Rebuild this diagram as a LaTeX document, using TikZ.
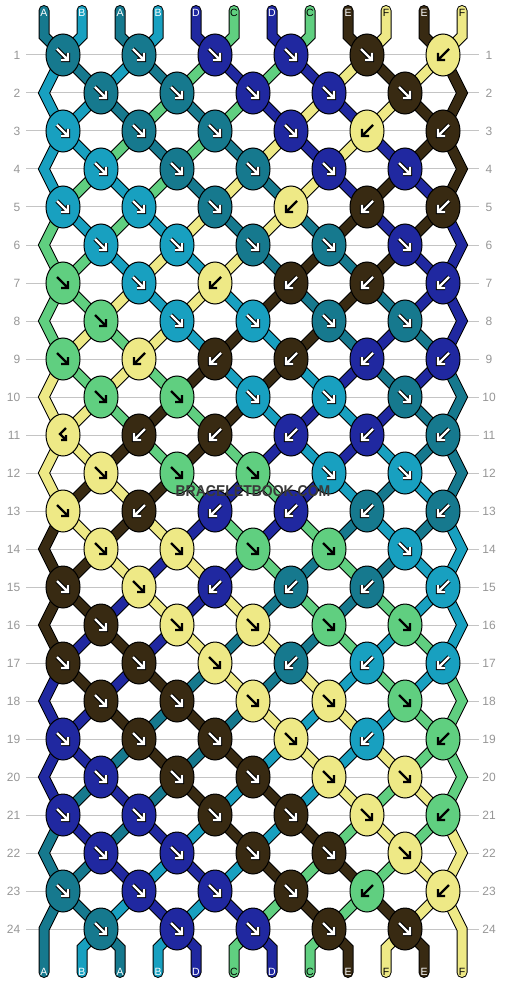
\documentclass[tikz,border=0pt]{standalone}
\usepackage{fontspec}
\setmainfont{Liberation Sans}
\usetikzlibrary{shapes.geometric}

\definecolor{colA}{RGB}{22,121,142}
\definecolor{colB}{RGB}{24,160,192}
\definecolor{colC}{RGB}{96,207,128}
\definecolor{colD}{RGB}{32,40,160}
\definecolor{colE}{RGB}{56,42,18}
\definecolor{colF}{RGB}{238,233,134}
\definecolor{gridgray}{RGB}{196,196,196}
\definecolor{labelgray}{RGB}{150,150,150}
\definecolor{markgray}{RGB}{58,58,58}
% arrow and letter colours per thread colour
\colorlet{tipA}{white}\colorlet{edgeA}{black}
\colorlet{tipB}{white}\colorlet{edgeB}{black}
\colorlet{tipC}{black}\colorlet{edgeC}{colC}
\colorlet{tipD}{white}\colorlet{edgeD}{black}
\colorlet{tipE}{white}\colorlet{edgeE}{black}
\colorlet{tipF}{black}\colorlet{edgeF}{colF}

% knot arrows: forward, backward, backward-forward
\def\tipf{(-6,-6) -- (5,5) (5,-2) -- (5,5) -- (-2,5)}
\def\tipb{(6,-6) -- (-5,5) (-5,-2) -- (-5,5) -- (2,5)}
\def\tipx{(3,-7) -- (-3,-1) -- (3,5) (3,0) -- (3,5) -- (-2,5)}

\tikzset{
  thread/.style={draw=black, line width=1pt, double distance=9pt, line cap=round, line join=miter},
  knot/.style={ellipse, draw=black, line width=1pt, minimum width=34pt, minimum height=42pt, inner sep=0pt},
  tipedge/.style={line width=4.4pt, line join=miter},
  tipfill/.style={line width=2.4pt, line join=miter},
  rowline/.style={draw=gridgray, line width=1pt},
  rowlabel/.style={text=labelgray, font=\fontsize{12}{14}\selectfont, inner sep=0pt},
  strlabel/.style={font=\fontsize{10.5}{12}\selectfont, inner sep=0pt},
}

\begin{document}
\begin{tikzpicture}[x=1pt, y=-1pt]
  \useasboundingbox (0,0) rectangle (506,984);

  % row lines and numbers
  \foreach \rw in {1,...,24} {
    \draw[rowline] (26,17+38*\rw) -- (479,17+38*\rw);
    \node[rowlabel, anchor=east] (ll\rw) at (20.5,17+38*\rw) {\rw};
    \node[rowlabel] (rl\rw) at (489,17+38*\rw) {\rw};
  }

  % where each slot passes in each row
  \foreach \rw in {1,...,24} {
    \foreach \ps in {0,...,11} {
      \pgfmathsetmacro\px{(mod(\rw,2)==0 && (\ps==0 || \ps==11)) ? 44+38*\ps : 63+38*(\ps-mod(\ps,2)-(1-mod(\rw,2))*(1-2*mod(\ps,2)))}
      \coordinate (p\rw-\ps) at (\px,17+38*\rw);
    }
  }

  % threads
  \foreach \s/\sc in {0/A,1/B,2/A,3/B,4/D,5/C,6/D,7/C,8/E,9/F,10/E,11/F} {
    \pgfmathtruncatemacro\so{mod(\s,2)==0 ? \s-1 : 22-\s}
    \draw[thread, double=col\sc] (44+38*\s,10.5) -- (44+38*\s,36)
      \foreach \rw [evaluate={\rw as \ps using int(11.5-abs(mod(\rw+\so,24)-11.5))}] in {1,...,24} { -- (p\rw-\ps) }
      -- (44+38*\s,948) -- (44+38*\s,972.5);
    \node[strlabel, text=tip\sc] (top\s) at (44+38*\s,13) {\sc};
    \node[strlabel, text=tip\sc] (bot\s) at (44+38*\s,971.5) {\sc};
  }

  % knots
  \foreach \rw/\row in {
    1/{A/f,A/f,D/f,D/f,E/f,F/b},
    2/{A/f,A/f,D/f,D/f,E/f},
    3/{B/f,A/f,A/f,D/f,F/b,E/b},
    4/{B/f,A/f,A/f,D/f,D/f},
    5/{B/f,B/f,A/f,F/b,E/b,E/b},
    6/{B/f,B/f,A/f,A/f,D/f},
    7/{C/f,B/f,F/b,E/b,E/b,D/b},
    8/{C/f,B/f,B/f,A/f,A/f},
    9/{C/f,F/b,E/b,E/b,D/b,D/b},
    10/{C/f,C/f,B/f,B/f,A/f},
    11/{F/x,E/b,E/b,D/b,D/b,A/b},
    12/{F/f,C/f,C/f,B/f,B/f},
    13/{F/f,E/b,D/b,D/b,A/b,A/b},
    14/{F/f,F/f,C/f,C/f,B/f},
    15/{E/f,F/f,D/b,A/b,A/b,B/b},
    16/{E/f,F/f,F/f,C/f,C/f},
    17/{E/f,E/f,F/f,A/b,B/b,B/b},
    18/{E/f,E/f,F/f,F/f,C/f},
    19/{D/f,E/f,E/f,F/f,B/b,C/b},
    20/{D/f,E/f,E/f,F/f,F/f},
    21/{D/f,D/f,E/f,E/f,F/f,C/b},
    22/{D/f,D/f,E/f,E/f,F/f},
    23/{A/f,D/f,D/f,E/f,C/b,F/b},
    24/{A/f,D/f,D/f,E/f,E/f}} {
    \foreach \kc/\kd [count=\ki from 0] in \row {
      \pgfmathsetmacro\kx{63+38*(1-mod(\rw,2))+76*\ki}
      \node[knot, fill=col\kc] (k\rw-\ki) at (\kx,17+38*\rw) {};
      \expandafter\let\expandafter\tippath\csname tip\kd\endcsname
      \draw[tipedge, draw=edge\kc, shift={(k\rw-\ki.center)}] \tippath;
      \draw[tipfill, draw=tip\kc, shift={(k\rw-\ki.center)}] \tippath;
    }
  }

  % watermark
  \node[font=\bfseries\fontsize{14}{16}\selectfont, text=markgray, yscale=1.12, transform shape] (wm) at (253,491) {BRACELETBOOK.COM};
\end{tikzpicture}
\end{document}
